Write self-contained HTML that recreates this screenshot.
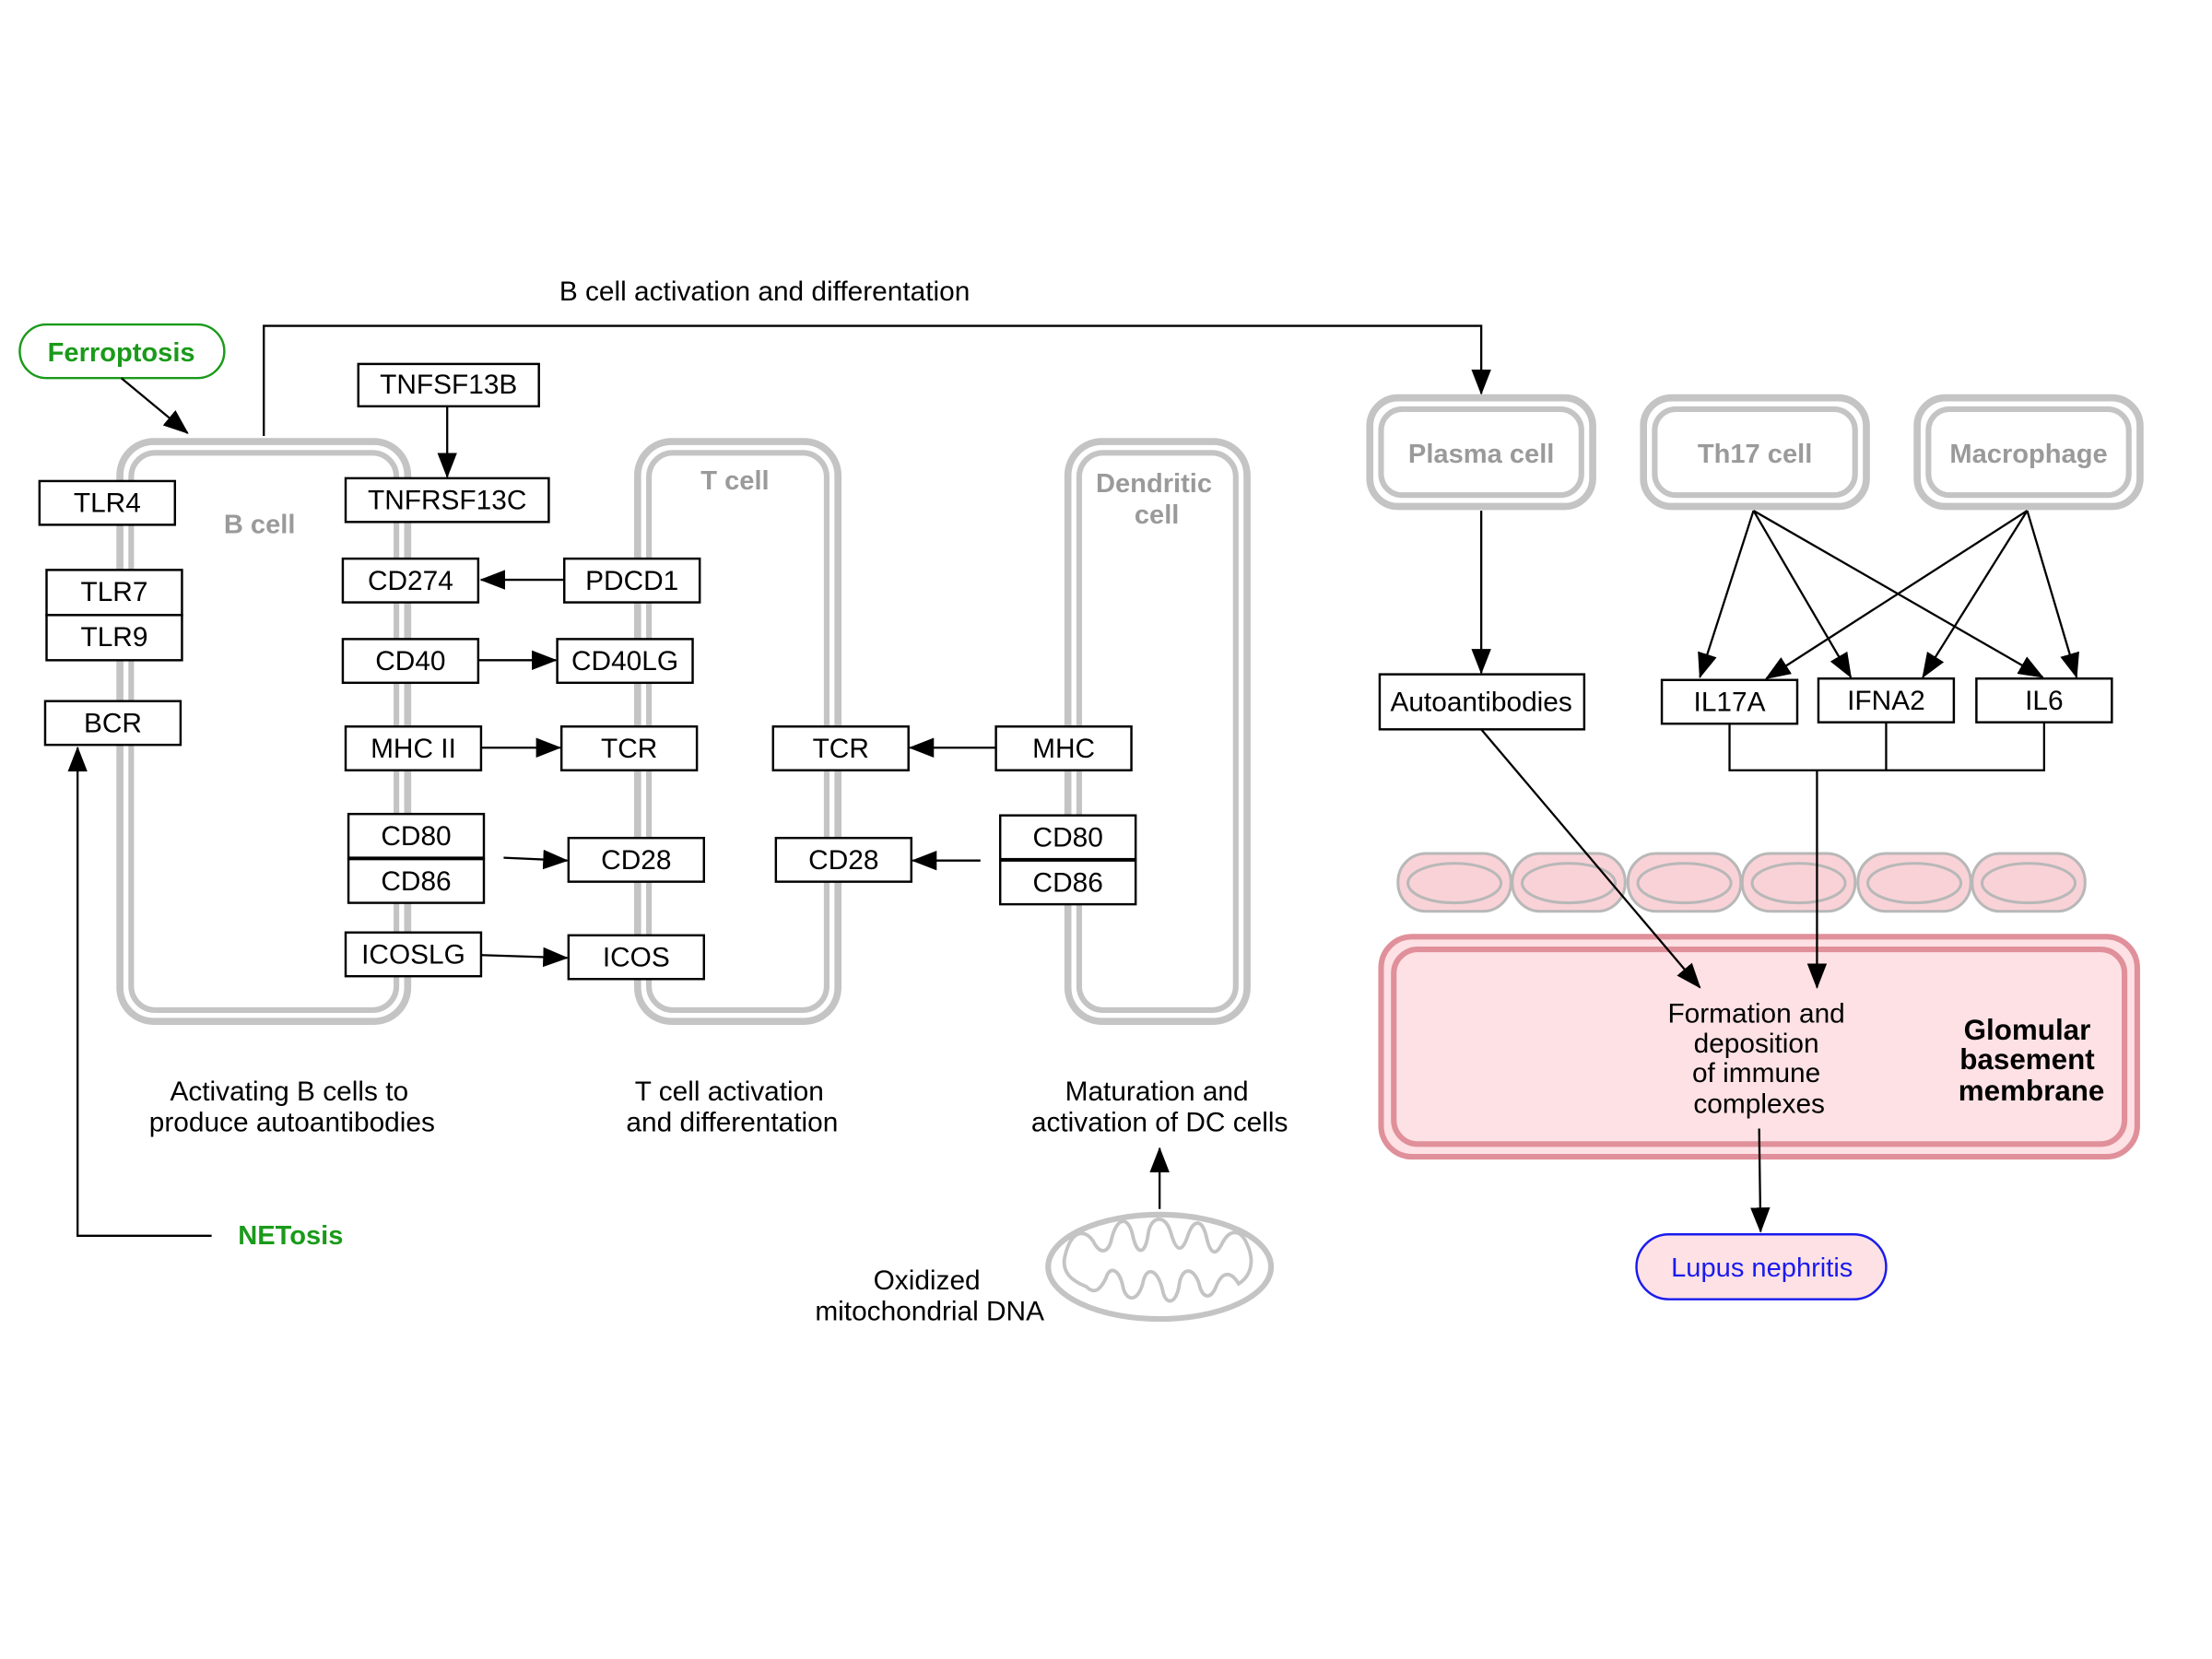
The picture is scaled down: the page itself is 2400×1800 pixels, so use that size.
<!DOCTYPE html>
<html><head><meta charset="utf-8"><style>html,body{margin:0;padding:0;background:#fff}svg{display:block}</style></head>
<body>
<svg width="2400" height="1800" viewBox="0 0 1568 1176" xmlns="http://www.w3.org/2000/svg" font-family="Liberation Sans, Arial, sans-serif">
<defs>
<marker id="b" markerWidth="18" markerHeight="18" refX="17" refY="9" orient="auto" markerUnits="userSpaceOnUse" viewBox="0 0 18 18"><path d="M0,2 L18,9 L0,16z" fill="#000"/></marker>
</defs>
<rect width="1568" height="1176" fill="#fff"/>
<g fill="none" stroke="#c4c4c4">
<rect x="85" y="313" width="204" height="411" rx="24" stroke-width="5"/>
<rect x="93" y="321" width="188" height="395" rx="17" stroke-width="4"/>
<rect x="452" y="313" width="142" height="411" rx="24" stroke-width="5"/>
<rect x="460" y="321" width="126" height="395" rx="17" stroke-width="4"/>
<rect x="757" y="313" width="127" height="411" rx="24" stroke-width="5"/>
<rect x="765" y="321" width="111" height="395" rx="17" stroke-width="4"/>
<rect x="971" y="282" width="158" height="77" rx="20" stroke-width="5"/>
<rect x="979" y="290" width="142" height="61" rx="15" stroke-width="4"/>
<rect x="1165" y="282" width="158" height="77" rx="20" stroke-width="5"/>
<rect x="1173" y="290" width="142" height="61" rx="15" stroke-width="4"/>
<rect x="1359" y="282" width="158" height="77" rx="20" stroke-width="5"/>
<rect x="1367" y="290" width="142" height="61" rx="15" stroke-width="4"/>
</g>
<g fill="#9a9a9a" font-weight="bold" font-size="19" text-anchor="middle">
<text x="184" y="378">B cell</text><text x="521" y="347">T cell</text>
<text x="818" y="349">Dendritic</text><text x="820" y="371">cell</text>
<text x="1050" y="328">Plasma cell</text><text x="1244" y="328">Th17 cell</text><text x="1438" y="328">Macrophage</text>
</g>
<g stroke="#b8b8b8" stroke-width="2" fill="#f9d2d7">
<rect x="991" y="605" width="80" height="41" rx="20"/><rect x="1072" y="605" width="80" height="41" rx="20"/><rect x="1154" y="605" width="80" height="41" rx="20"/><rect x="1235" y="605" width="80" height="41" rx="20"/><rect x="1317" y="605" width="80" height="41" rx="20"/><rect x="1398" y="605" width="80" height="41" rx="20"/>
<ellipse cx="1031" cy="626" rx="33" ry="14"/><ellipse cx="1112" cy="626" rx="33" ry="14"/><ellipse cx="1194" cy="626" rx="33" ry="14"/><ellipse cx="1275" cy="626" rx="33" ry="14"/><ellipse cx="1357" cy="626" rx="33" ry="14"/><ellipse cx="1438" cy="626" rx="33" ry="14"/>
</g>
<rect x="979" y="664" width="536" height="156" rx="22" fill="#fde1e4" stroke="#e0909a" stroke-width="4"/>
<rect x="988" y="673" width="518" height="138" rx="17" fill="none" stroke="#e0909a" stroke-width="4"/>
<ellipse cx="822" cy="898" rx="79" ry="37" fill="none" stroke="#c4c4c4" stroke-width="4"/>
<path d="M755,890 C760,870 770,872 775,880 C780,890 786,888 788,878 C792,862 800,862 803,876 C806,890 812,890 814,874 C816,862 826,860 830,874 C834,888 838,888 842,876 C846,864 852,864 855,876 C858,890 862,890 866,882 C872,870 880,872 884,882 C890,895 886,905 878,910 C872,900 866,902 862,912 C858,922 852,920 850,910 C846,898 838,898 836,910 C834,925 826,926 824,914 C820,898 812,898 810,910 C806,924 798,922 796,912 C793,898 786,898 784,906 C780,914 776,918 770,912 C760,908 752,902 755,890 Z" fill="none" stroke="#c4c4c4" stroke-width="2.5"/>
<g fill="#fff" stroke="#000" stroke-width="1.6">
<rect x="254" y="258" width="128" height="30"/><rect x="245" y="339" width="144" height="31"/>
<rect x="28" y="341" width="96" height="31"/><rect x="33" y="404" width="96" height="32"/><rect x="33" y="436" width="96" height="32"/><rect x="32" y="497" width="96" height="31"/>
<rect x="243" y="396" width="96" height="31"/><rect x="400" y="396" width="96" height="31"/>
<rect x="243" y="453" width="96" height="31"/><rect x="395" y="453" width="96" height="31"/>
<rect x="245" y="515" width="96" height="31"/><rect x="398" y="515" width="96" height="31"/>
<rect x="247" y="577" width="96" height="31"/><rect x="247" y="609" width="96" height="31"/><rect x="403" y="594" width="96" height="31"/>
<rect x="245" y="661" width="96" height="31"/><rect x="403" y="663" width="96" height="31"/>
<rect x="548" y="515" width="96" height="31"/><rect x="706" y="515" width="96" height="31"/>
<rect x="550" y="594" width="96" height="31"/><rect x="709" y="578" width="96" height="31"/><rect x="709" y="610" width="96" height="31"/>
<rect x="978" y="478" width="145" height="39"/>
<rect x="1178" y="482" width="96" height="31"/><rect x="1289" y="481" width="96" height="31"/><rect x="1401" y="481" width="96" height="31"/>
</g>
<g font-size="19.5" text-anchor="middle" fill="#000">
<text x="318" y="279">TNFSF13B</text><text x="317" y="361">TNFRSF13C</text>
<text x="76" y="363">TLR4</text><text x="81" y="426">TLR7</text><text x="81" y="458">TLR9</text><text x="80" y="519">BCR</text>
<text x="291" y="418">CD274</text><text x="448" y="418">PDCD1</text>
<text x="291" y="475">CD40</text><text x="443" y="475">CD40LG</text>
<text x="293" y="537">MHC II</text><text x="446" y="537">TCR</text>
<text x="295" y="599">CD80</text><text x="295" y="631">CD86</text><text x="451" y="616">CD28</text>
<text x="293" y="683">ICOSLG</text><text x="451" y="685">ICOS</text>
<text x="596" y="537">TCR</text><text x="754" y="537">MHC</text>
<text x="598" y="616">CD28</text><text x="757" y="600">CD80</text><text x="757" y="632">CD86</text>
<text x="1050" y="504">Autoantibodies</text>
<text x="1226" y="504">IL17A</text><text x="1337" y="503">IFNA2</text><text x="1449" y="503">IL6</text>
<text x="542" y="213">B cell activation and differentation</text>
<text x="205" y="780">Activating B cells to</text><text x="207" y="802">produce autoantibodies</text>
<text x="517" y="780">T cell activation</text><text x="519" y="802">and differentation</text>
<text x="820" y="780">Maturation and</text><text x="822" y="802">activation of DC cells</text>
<text x="657" y="914">Oxidized</text><text x="659" y="936">mitochondrial DNA</text>
<text x="1245" y="725">Formation and</text><text x="1245" y="746">deposition</text><text x="1245" y="767">of immune</text><text x="1247" y="789">complexes</text>
<g font-weight="bold" font-size="20.5"><text x="1437" y="737">Glomular</text><text x="1437" y="758">basement</text><text x="1440" y="780">membrane</text></g>
</g>
<rect x="14" y="230" width="145" height="38" rx="19" fill="#fff" stroke="#1a9a1a" stroke-width="1.6"/>
<text x="86" y="256" font-size="19" font-weight="bold" fill="#1a9a1a" text-anchor="middle">Ferroptosis</text>
<text x="206" y="882" font-size="19" font-weight="bold" fill="#1a9a1a" text-anchor="middle">NETosis</text>
<rect x="1160" y="875" width="177" height="46" rx="23" fill="#fde1e4" stroke="#1a1aee" stroke-width="1.6"/>
<text x="1249" y="905" font-size="19" fill="#1a1aee" text-anchor="middle">Lupus nephritis</text>
<g stroke="#000" stroke-width="1.5" fill="none">
<line x1="86" y1="268" x2="133" y2="307" marker-end="url(#b)"/>
<polyline points="187,309 187,231 1050,231 1050,279" marker-end="url(#b)"/>
<line x1="317" y1="288" x2="317" y2="338" marker-end="url(#b)"/>
<line x1="400" y1="411" x2="341" y2="411" marker-end="url(#b)"/>
<line x1="339" y1="468" x2="394" y2="468" marker-end="url(#b)"/>
<line x1="341" y1="530" x2="397" y2="530" marker-end="url(#b)"/>
<line x1="357" y1="608" x2="402" y2="610" marker-end="url(#b)"/>
<line x1="341" y1="677" x2="402" y2="679" marker-end="url(#b)"/>
<line x1="706" y1="530" x2="645" y2="530" marker-end="url(#b)"/>
<line x1="695" y1="610" x2="647" y2="610" marker-end="url(#b)"/>
<polyline points="150,876 55,876 55,530" marker-end="url(#b)"/>
<line x1="822" y1="857" x2="822" y2="814" marker-end="url(#b)"/>
<line x1="1050" y1="362" x2="1050" y2="477" marker-end="url(#b)"/>
<line x1="1243" y1="362" x2="1205" y2="480" marker-end="url(#b)"/>
<line x1="1243" y1="362" x2="1312" y2="480" marker-end="url(#b)"/>
<line x1="1243" y1="362" x2="1448" y2="480" marker-end="url(#b)"/>
<line x1="1437" y1="362" x2="1252" y2="481" marker-end="url(#b)"/>
<line x1="1437" y1="362" x2="1363" y2="480" marker-end="url(#b)"/>
<line x1="1437" y1="362" x2="1472" y2="480" marker-end="url(#b)"/>
<polyline points="1226,513 1226,546 1449,546 1449,512"/>
<line x1="1337" y1="512" x2="1337" y2="546"/>
<line x1="1288" y1="546" x2="1288" y2="700" marker-end="url(#b)"/>
<line x1="1050" y1="517" x2="1205" y2="700" marker-end="url(#b)"/>
<line x1="1247" y1="800" x2="1248" y2="873" marker-end="url(#b)"/>
</g>
</svg>
</body></html>
